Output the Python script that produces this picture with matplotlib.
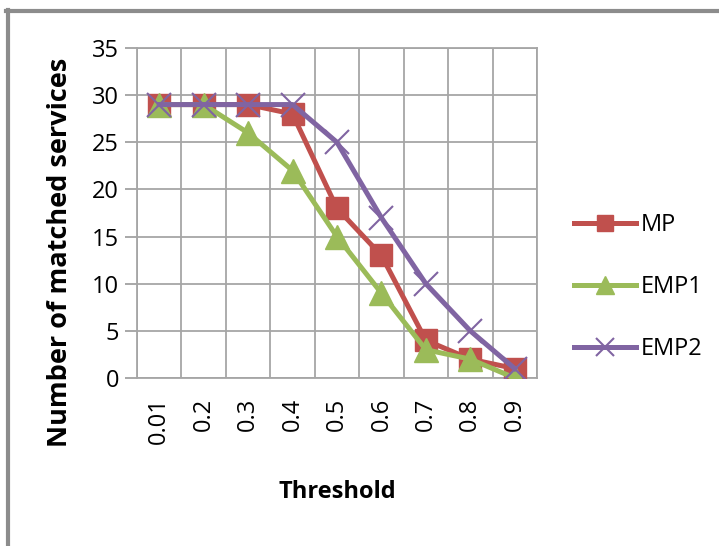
import matplotlib
matplotlib.use("Agg")
import matplotlib.pyplot as plt
from matplotlib.lines import Line2D
import numpy as np

thresholds = ["0.01", "0.2", "0.3", "0.4", "0.5", "0.6", "0.7", "0.8", "0.9"]
mp = [29, 29, 29, 28, 18, 13, 4, 2, 1]
emp1 = [29, 29, 26, 22, 15, 9, 3, 2, 0]
emp2 = [29, 29, 29, 29, 25, 17, 10, 5, 1]

plt.rcParams['font.family'] = ['Open Sans', 'DejaVu Sans']

fig = plt.figure(figsize=(7.19, 5.46), dpi=100)
ax = fig.add_axes([0.1905, 0.3077, 0.5563, 0.6044])

x = np.arange(len(thresholds))
ax.plot(x, mp, color='#C0504D', lw=3.6, marker='s', ms=16, label='MP', zorder=3)
ax.plot(x, emp1, color='#9BBB59', lw=3.6, marker='^', ms=17, label='EMP1', zorder=4)
ax.plot(x, emp2, color='#8064A2', lw=3.6, marker='x', ms=17, mew=1.5, label='EMP2', zorder=5)

ax.set_xlim(-0.5, len(thresholds) - 0.5)
ax.set_ylim(0, 35)
ax.set_yticks(range(0, 36, 5))
ax.set_xticks(x)
ax.set_xticklabels(thresholds, rotation=90, fontsize=17)
ax.set_xticks(np.arange(-0.5, len(thresholds), 1), minor=True)
ax.tick_params(axis='y', labelsize=17, length=9, color='#999999', width=1.2, pad=4)
ax.tick_params(axis='x', which='major', length=0, pad=14)
ax.tick_params(axis='x', which='minor', length=0)
ax.grid(True, axis='y', color='#a6a6a6', lw=1.3)
ax.grid(True, axis='x', which='minor', color='#a6a6a6', lw=1.3)
ax.set_axisbelow(True)
for s in ax.spines.values():
    s.set_color('#a6a6a6')
    s.set_linewidth(1.3)

ax.set_ylabel('Number of matched services', fontsize=19.5, fontweight='bold')
ax.yaxis.set_label_coords(-0.16, 0.38)
ax.set_xlabel('Threshold', fontsize=17, fontweight='bold', labelpad=26)

leg = ax.legend(loc='center left', bbox_to_anchor=(1.04, 0.275), frameon=False,
                fontsize=17, labelspacing=1.6, handlelength=2.6, handletextpad=0.2,
                markerscale=0.75)

# outer frame (gray) around the chart
fig.add_artist(Line2D([0.0105, 0.0105], [0.0, 0.982], color='#8c8c8c', lw=3))
fig.add_artist(Line2D([0.0085, 1.0], [0.980, 0.980], color='#8c8c8c', lw=3))

fig.savefig('out.png', dpi=100)
